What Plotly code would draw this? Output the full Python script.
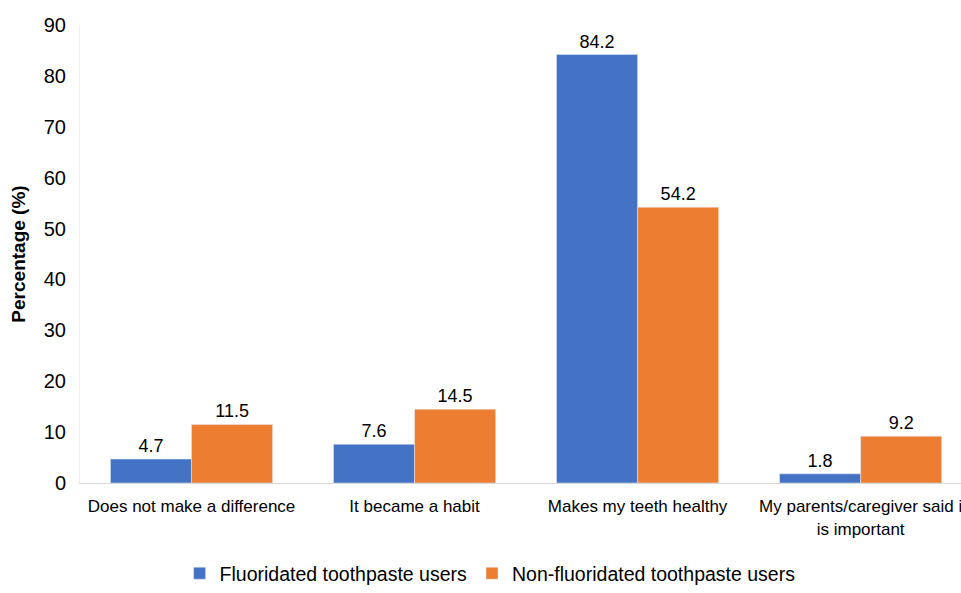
import plotly.graph_objects as go

categories = [
    "Does not make a difference",
    "It became a habit",
    "Makes my teeth healthy",
    "My parents/caregiver said i<br>is important",
]
fluoridated = [4.7, 7.6, 84.2, 1.8]
non_fluoridated = [11.5, 14.5, 54.2, 9.2]
y_ticks = [0, 10, 20, 30, 40, 50, 60, 70, 80, 90]

sans = "Liberation Sans, Arial, sans-serif"

fig = go.Figure()
fig.add_trace(go.Bar(
    x=categories, y=fluoridated, name="Fluoridated toothpaste users",
    marker_color="#4472C4", text=[f"{v:.1f}" for v in fluoridated],
    textposition="outside", cliponaxis=False,
    textfont=dict(family=sans, size=18, color="#000000"),
))
fig.add_trace(go.Bar(
    x=categories, y=non_fluoridated, name="Non-fluoridated toothpaste users",
    marker_color="#ED7D31", text=[f"{v:.1f}" for v in non_fluoridated],
    textposition="outside", cliponaxis=False,
    textfont=dict(family=sans, size=18, color="#000000"),
))

fig.update_layout(
    width=961, height=593,
    margin=dict(l=80, r=0, t=25, b=110, autoexpand=False),
    plot_bgcolor="white", paper_bgcolor="white",
    barmode="group", bargap=0.273, bargroupgap=0,
    showlegend=True,
    legend=dict(
        orientation="h", x=0.51, xanchor="center", xref="container",
        y=-0.008, yanchor="bottom", yref="container",
        font=dict(family=sans, size=19.5, color="#000000"),
        traceorder="normal",
    ),
    xaxis=dict(
        range=[-0.5, 3.45], showline=True, linecolor="#D9D9D9", linewidth=1,
        showgrid=False, ticks="", ticklabelstandoff=8,
        tickfont=dict(family=sans, size=17, color="#000000"),
    ),
    yaxis=dict(
        range=[0, 90], tickvals=y_ticks, showgrid=False, zeroline=False,
        showline=True, linecolor="#EFEFEF", linewidth=1, ticks="",
        ticklabelstandoff=9,
        tickfont=dict(family=sans, size=20, color="#000000"),
        title=dict(text="<b>Percentage (%)</b>", font=dict(family=sans, size=19, color="#000000"), standoff=13),
    ),
)

fig.write_html("out.html")
